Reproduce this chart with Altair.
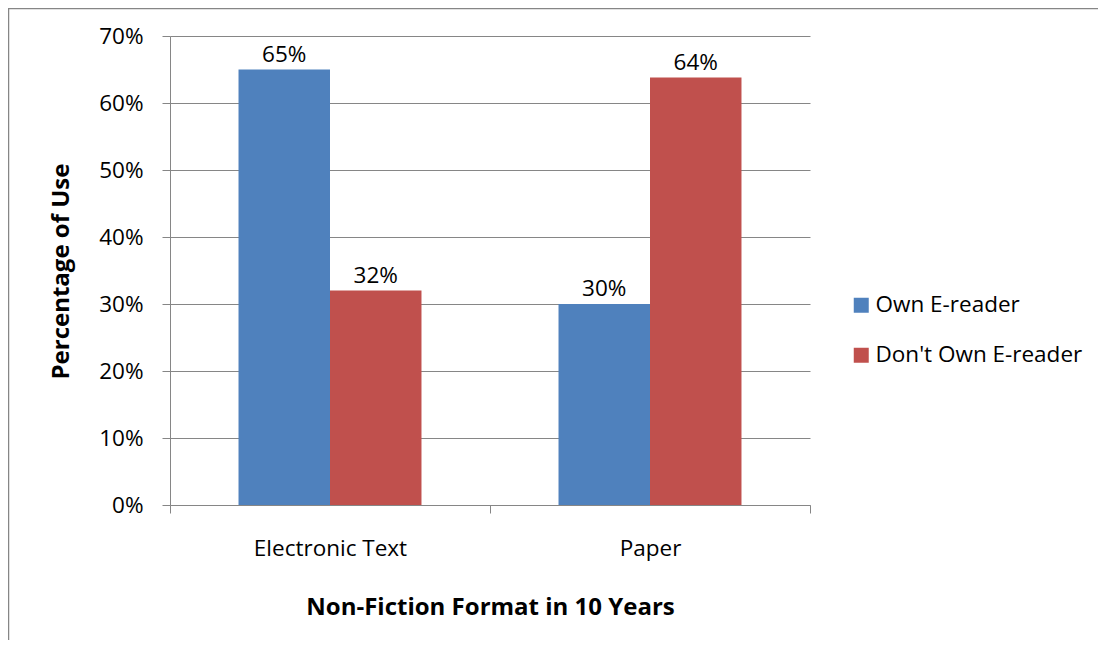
import altair as alt
import pandas as pd

formats = ["Electronic Text", "Electronic Text", "Paper", "Paper"]
groups = ["Own E-reader", "Don't Own E-reader", "Own E-reader", "Don't Own E-reader"]
values = [0.65, 0.32, 0.30, 0.638]
y_ticks = [0.0, 0.1, 0.2, 0.3, 0.4, 0.5, 0.6, 0.7]
series = ["Own E-reader", "Don't Own E-reader"]
colors = ["#4F81BD", "#C0504D"]
categories = ["Electronic Text", "Paper"]

df = pd.DataFrame({"format": formats, "group": groups, "value": values})

FONT = "Open Sans"
GRAY = "#868686"
FS = 22.5
TFS = 24

x = alt.X(
    "format:N",
    sort=categories,
    scale=alt.Scale(paddingInner=0, paddingOuter=0),
    axis=alt.Axis(
        title="Non-Fiction Format in 10 Years",
        labelAngle=0,
        tickBand="extent",
        tickSize=8,
        labelPadding=24,
        domainColor=GRAY,
        tickColor=GRAY,
        labelColor="black",
        titleColor="black",
        titleFontWeight="bold",
        titleFontSize=TFS,
        labelFontSize=FS,
        titleX=320,
        titleY=102,
        titleBaseline="middle",
        titleAlign="center",
        grid=False,
    ),
)
xo = alt.XOffset("group:N", sort=series, scale=alt.Scale(paddingInner=0, paddingOuter=0.749))
y = alt.Y(
    "value:Q",
    scale=alt.Scale(domain=[0, 0.7]),
    axis=alt.Axis(
        format=".0%",
        values=y_ticks,
        tickSize=8,
        labelPadding=19,
        gridColor=GRAY,
        domainColor=GRAY,
        tickColor=GRAY,
        labelColor="black",
        titleColor="black",
        labelFontSize=FS,
        title="Percentage of Use",
        titleFontSize=TFS,
        titleFontWeight="bold",
        titleX=-109,
        titleY=235,
        titleAngle=-90,
        titleBaseline="middle",
        titleAlign="center",
    ),
)
color = alt.Color(
    "group:N",
    sort=series,
    scale=alt.Scale(domain=series, range=colors),
    legend=alt.Legend(
        title=None,
        orient="none",
        legendX=680,
        legendY=258,
        symbolType="square",
        symbolSize=225,
        symbolStrokeWidth=0,
        symbolOpacity=1,
        labelFontSize=FS,
        labelColor="black",
        labelOffset=3,
        labelLimit=0,
        rowPadding=27,
        padding=0,
    ),
)

bars = alt.Chart(df).mark_bar(opacity=1).encode(x=x, xOffset=xo, y=y, color=color)
labels = alt.Chart(df).mark_text(baseline="bottom", dy=-3, fontSize=FS, font=FONT, color="black").encode(
    x=x, xOffset=xo, y=y, text=alt.Text("value:Q", format=".0%")
)
border = alt.Chart(pd.DataFrame({"a": [0]})).mark_rect(filled=False, stroke=GRAY, strokeWidth=1.5).encode(
    x=alt.value(-161.5), x2=alt.value(1200), y=alt.value(-27.5), y2=alt.value(900)
)

chart = (
    alt.layer(border, bars, labels)
    .properties(
        width=640,
        height=469,
        autosize=alt.AutoSizeParams(type="none"),
        padding={"left": 162, "top": 28, "right": 288, "bottom": 135},
    )
    .configure(font=FONT)
    .configure_view(strokeWidth=0)
    .configure_axis(labelFont=FONT, titleFont=FONT)
    .configure_legend(labelFont=FONT)
)

chart.save("out.html", embed_options={"renderer": "svg", "actions": False})
